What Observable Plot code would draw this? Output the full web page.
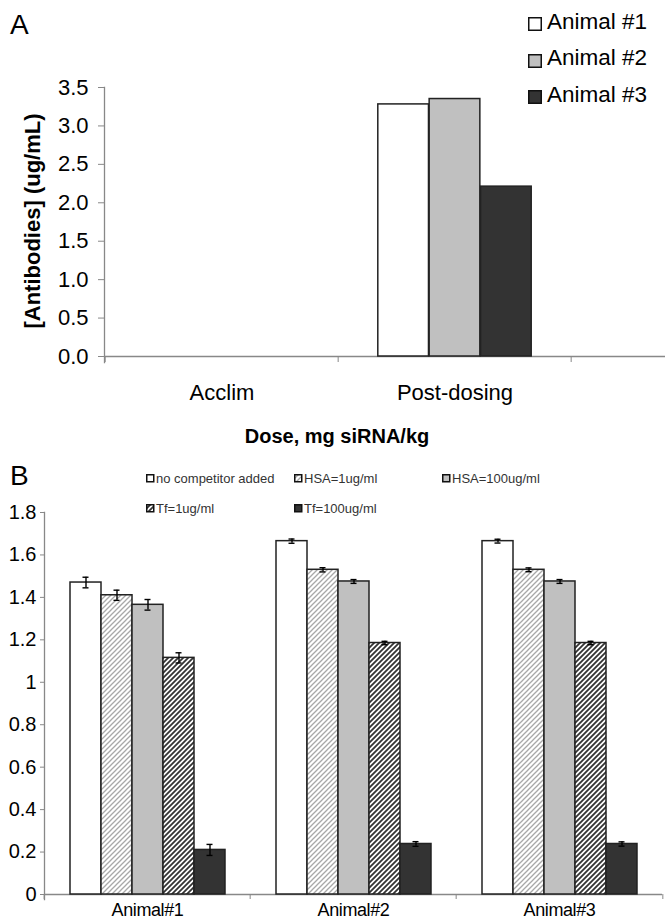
<!DOCTYPE html>
<html><head><meta charset="utf-8">
<script src="https://cdn.jsdelivr.net/npm/d3@7"></script>
<script src="https://cdn.jsdelivr.net/npm/@observablehq/plot@0.6"></script>
<style>
body{margin:0;background:#fff;overflow:hidden;}
#root{position:relative;width:665px;height:921px;overflow:hidden;font-family:"Liberation Sans",Arial,sans-serif;color:#000;background:#fff;}
.abs{position:absolute;line-height:1;white-space:nowrap;}
svg.plotpanel{position:absolute;left:0;max-width:none !important;height:auto;}
</style></head><body>
<svg width="0" height="0" style="position:absolute">
<defs>
<pattern id="hatchLight" patternUnits="userSpaceOnUse" width="5" height="5">
<rect width="5" height="5" fill="#fff"/>
<path d="M-1,1 l2,-2 M0,5 l5,-5 M4,6 l2,-2" stroke="#a8a8a8" stroke-width="1.3"/>
</pattern>
<pattern id="hatchDark" patternUnits="userSpaceOnUse" width="5" height="5">
<rect width="5" height="5" fill="#fff"/>
<path d="M-1,1 l2,-2 M0,5 l5,-5 M4,6 l2,-2" stroke="#333" stroke-width="1.8"/>
</pattern>
</defs></svg>
<div id="root"></div>
<script>
// ---------- Panel A data ----------
const doseGroups = ["Acclim", "Post-dosing", ""];
const animals = ["Animal #1", "Animal #2", "Animal #3"];
const acclimValues = [null, null, null];
const postDosingValues = [3.28, 3.35, 2.21];
const animalFills = ["#ffffff", "#c0c0c0", "#333333"];
const yTicksA = [0, 0.5, 1, 1.5, 2, 2.5, 3, 3.5];

// ---------- Panel B data ----------
const animalGroups = ["Animal#1", "Animal#2", "Animal#3"];
const conditions = ["no competitor added", "HSA=1ug/ml", "HSA=100ug/ml", "Tf=1ug/ml", "Tf=100ug/ml"];
const conditionFills = ["#ffffff", "url(#hatchLight)", "#c0c0c0", "url(#hatchDark)", "#333333"];
const animal1Values = [1.47, 1.41, 1.365, 1.115, 0.21];
const animal1Errors = [0.025, 0.024, 0.025, 0.024, 0.026];
const animal2Values = [1.665, 1.53, 1.475, 1.185, 0.238];
const animal2Errors = [0.01, 0.01, 0.009, 0.008, 0.011];
const animal3Values = [1.665, 1.53, 1.475, 1.185, 0.238];
const animal3Errors = [0.009, 0.009, 0.009, 0.008, 0.01];
const yTicksB = [0, 0.2, 0.4, 0.6, 0.8, 1, 1.2, 1.4, 1.6, 1.8];

const FONT = '"Liberation Sans", Arial, sans-serif';
const root = document.getElementById("root");

// ---------- build tables ----------
const dataA = [];
[acclimValues, postDosingValues].forEach((vals, gi) =>
  vals.forEach((v, i) => { if (v != null) dataA.push({group: doseGroups[gi], animal: animals[i], value: v}); }));

const dataB = [];
[[animal1Values, animal1Errors], [animal2Values, animal2Errors], [animal3Values, animal3Errors]].forEach(([vals, errs], gi) =>
  vals.forEach((v, i) => dataB.push({group: animalGroups[gi], condition: conditions[i], value: v, err: errs[i]})));

// ---------- Panel A (no facets: band x over dose groups, bars offset within band) ----------
const wA = 805, mlA = 104;
const stepA = (wA - mlA) / doseGroups.length;
const outerPadA = 0.775;
const barWA = stepA / (animals.length + 2 * outerPadA);
const padA = outerPadA * barWA;
const plotA = Plot.plot({
  width: wA, height: 460, marginLeft: mlA, marginRight: 0, marginTop: 87, marginBottom: 104,
  style: {fontFamily: FONT, background: "transparent", color: "#000", maxWidth: "none"},
  x: {domain: doseGroups, paddingInner: 0, paddingOuter: 0, label: null, axis: null},
  y: {domain: [0, 3.5], axis: null},
  color: {domain: animals, range: animalFills},
  marks: [
    Plot.ruleY([0], {stroke: "#888", strokeWidth: 1.3}),
    Plot.frame({anchor: "left", stroke: "#888", strokeWidth: 1.3, insetBottom: -6}),
    ...animals.map((a, j) => Plot.barY(dataA.filter(d => d.animal === a), {
      x: "group", y: "value", fill: "animal", stroke: "#222", strokeWidth: 1.5,
      insetLeft: padA + j * barWA, insetRight: stepA - padA - (j + 1) * barWA
    })),
    Plot.axisY({ticks: yTicksA, tickFormat: d3.format(".1f"), tickSize: 6, tickPadding: 10, fontSize: 22, stroke: "#888", color: "#000", label: null}),
    Plot.axisX({anchor: "bottom", text: null, tickSize: 6, dx: -stepA / 2, stroke: "#888", label: null}),
    Plot.axisX({anchor: "bottom", tickSize: 0, tickPadding: 28, fontSize: 22, color: "#000", label: null})
  ]
});
plotA.classList.add("plotpanel");
plotA.setAttribute("width", wA);
plotA.style.width = wA + "px";
plotA.style.top = "0px";
root.appendChild(plotA);

// ---------- Panel B ----------
const wB = 665, mlB = 43, mrB = 2;
const bwB = (wB - mlB - mrB) / animalGroups.length;
const plotB = Plot.plot({
  width: wB, height: 461, marginLeft: mlB, marginRight: mrB, marginTop: 52, marginBottom: 27,
  style: {fontFamily: FONT, background: "transparent", color: "#000", maxWidth: "none"},
  fx: {domain: animalGroups, paddingInner: 0, paddingOuter: 0, label: null},
  x: {domain: conditions, paddingInner: 0, paddingOuter: 0.75, axis: null},
  y: {domain: [0, 1.8], axis: null},
  color: {domain: conditions, range: conditionFills},
  marks: [
    Plot.ruleY(animalGroups, {fx: d => d, y: () => 0, stroke: "#888", strokeWidth: 1.3}),
    Plot.frame({anchor: "left", facetAnchor: "left", stroke: "#888", strokeWidth: 1.3, insetBottom: -5}),
    Plot.barY(dataB, {fx: "group", x: "condition", y: "value", fill: "condition", stroke: "#222", strokeWidth: 1.5}),
    Plot.ruleX(dataB, {fx: "group", x: "condition", y1: d => d.value - d.err, y2: d => d.value + d.err, stroke: "#000", strokeWidth: 1.4}),
    Plot.tickY(dataB, {fx: "group", x: "condition", y: d => d.value + d.err, insetLeft: 12.5, insetRight: 12.5, stroke: "#000", strokeWidth: 1.4}),
    Plot.tickY(dataB, {fx: "group", x: "condition", y: d => d.value - d.err, insetLeft: 12.5, insetRight: 12.5, stroke: "#000", strokeWidth: 1.4}),
    Plot.axisY({ticks: yTicksB, tickFormat: d => String(d), tickSize: 4, tickPadding: 4, fontSize: 20, stroke: "#888", color: "#000", label: null, facetAnchor: "left"}),
    Plot.axisFx({anchor: "bottom", text: null, tickSize: 5, dx: -bwB / 2, stroke: "#888", label: null}),
    Plot.axisFx({anchor: "bottom", ticks: [animalGroups[animalGroups.length - 1]], text: null, tickSize: 5, dx: bwB / 2, stroke: "#888", label: null}),
    Plot.axisFx({anchor: "bottom", tickSize: 0, tickPadding: 9, fontSize: 18, color: "#000", label: null})
  ]
});
plotB.classList.add("plotpanel");
plotB.style.top = "460px";
root.appendChild(plotB);
plotB.querySelectorAll('[aria-label="fx-axis tick label"] text').forEach(t => t.setAttribute("letter-spacing", "-0.4"));

// ---------- HTML texts ----------
function addText(txt, css) {
  const d = document.createElement("div");
  d.className = "abs";
  d.textContent = txt;
  Object.assign(d.style, css);
  root.appendChild(d);
  return d;
}
addText("A", {left: "10px", top: "11px", fontSize: "28px"});
addText("B", {left: "10px", top: "462px", fontSize: "28px"});
addText("Dose, mg siRNA/kg", {left: "137px", top: "426px", width: "400px", textAlign: "center", fontSize: "20px", fontWeight: "bold"});
addText("[Antibodies] (ug/mL)", {left: "33px", top: "221px", fontSize: "22px", fontWeight: "bold", transform: "translate(-50%,-50%) rotate(-90deg)"});

function swatch(fill, x, y, size, sw) {
  const ns = "http://www.w3.org/2000/svg";
  const s = document.createElementNS(ns, "svg");
  s.setAttribute("width", size); s.setAttribute("height", size);
  s.style.position = "absolute"; s.style.left = x + "px"; s.style.top = y + "px";
  const r = document.createElementNS(ns, "rect");
  r.setAttribute("x", sw / 2); r.setAttribute("y", sw / 2);
  r.setAttribute("width", size - sw); r.setAttribute("height", size - sw);
  r.setAttribute("fill", fill); r.setAttribute("stroke", "#111"); r.setAttribute("stroke-width", sw);
  s.appendChild(r);
  root.appendChild(s);
}

// Legend A
const legATops = [10.5, 47, 83.5];
animals.forEach((a, i) => {
  swatch(animalFills[i], 528, legATops[i] + 6.5, 14, 1.5);
  addText(a, {left: "547px", top: legATops[i] + "px", fontSize: "22.5px"});
});

// Legend B
const legBPos = [[146, 471.6], [294, 471.6], [442, 471.6], [146, 501.6], [294, 501.6]];
conditions.forEach((c, i) => {
  const [x, y] = legBPos[i];
  swatch(conditionFills[i], x, y + 2.5, 8.5, 1.5);
  addText(c, {left: (x + 10) + "px", top: y + "px", fontSize: "13px", color: "#333"});
});
</script>
</body></html>
